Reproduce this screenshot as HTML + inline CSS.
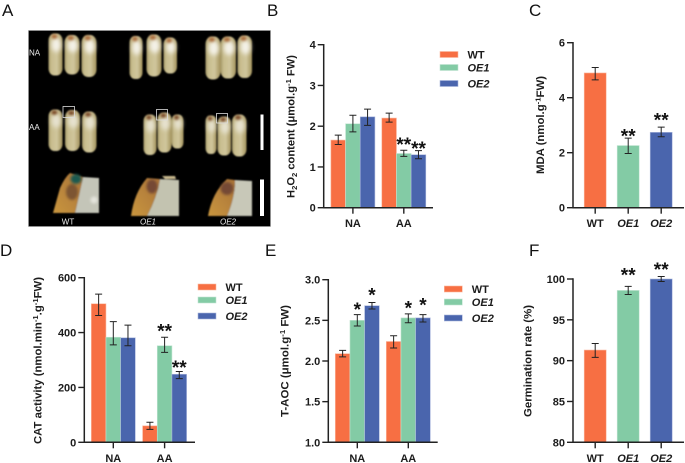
<!DOCTYPE html>
<html lang="en">
<head>
<meta charset="utf-8">
<title>Rice grain physiology figure</title>
<style>
html,body{margin:0;padding:0;background:#fff;width:685px;height:463px;overflow:hidden}
svg{display:block;font-family:"Liberation Sans",sans-serif;filter:blur(0.35px)}
.tick{font-size:11px;font-weight:700;fill:#1c1c1c}
.ytitle{font-size:11px;font-weight:700;fill:#1c1c1c}
.leg{font-size:11px;font-weight:700;fill:#1c1c1c}
.panel{font-size:17px;fill:#111}
.star{font-size:19px;font-weight:700;fill:#111}
.micro{font-size:8px;fill:#eee}
</style>
</head>
<body>
<svg id="fig" xmlns="http://www.w3.org/2000/svg" width="685" height="463" viewBox="0 0 685 463">
<defs>
<linearGradient id="grainBody" x1="0" x2="1" y1="0" y2="0">
<stop offset="0" stop-color="#a39766"/><stop offset=".2" stop-color="#c8bd8e"/><stop offset=".6" stop-color="#d0c69c"/><stop offset="1" stop-color="#a3935c"/>
</linearGradient>
<linearGradient id="seedFill" x1="0" x2="1" y1="1" y2="0">
<stop offset="0" stop-color="#c9963f"/><stop offset="1" stop-color="#a87238"/>
</linearGradient>
<filter id="soft" x="-20%" y="-20%" width="140%" height="140%"><feGaussianBlur stdDeviation="0.7"/></filter>
<filter id="softer" x="-50%" y="-50%" width="200%" height="200%"><feGaussianBlur stdDeviation="2.2"/></filter>
<filter id="spot" x="-50%" y="-50%" width="200%" height="200%"><feGaussianBlur stdDeviation="1.1"/></filter>
</defs>

<text class="panel" x="2" y="16">A</text>
<text class="panel" x="267" y="16">B</text>
<text class="panel" x="529" y="16">C</text>
<text class="panel" x="0" y="256">D</text>
<text class="panel" x="265" y="256">E</text>
<text class="panel" x="529" y="256">F</text>

<g id="panelA">
<rect x="28.5" y="30.5" width="242" height="196" fill="#000" stroke="#999" stroke-width=".6"/>
<g id="grains" filter="url(#soft)"></g>
<g filter="url(#soft)">
<path d="M83,177 L99,178 L99,213 L75,213 Q78,200 83,177 Z" fill="#c4c5b8"/>
<circle cx="94" cy="200" r="3.5" fill="#e4e4dc" filter="url(#spot)"/>
<path d="M53,213 L60,188 Q65,177 70,173 L83,177 Q78,200 75,213 Z" fill="url(#seedFill)"/>
<ellipse cx="72" cy="192" rx="6" ry="8" fill="#7d5530" filter="url(#spot)"/>
<ellipse cx="76" cy="179" rx="5.500" ry="5" fill="#1c5a50" filter="url(#spot)"/>
</g>
<g filter="url(#soft)">
<path d="M160,179 L179,180 L179,216 L147,216 Q157,197 160,179 Z" fill="#c3c3b0"/>
<path d="M131,216 Q134,193 147,178 L160,179 Q157,197 147,216 Z" fill="url(#seedFill)"/>
<ellipse cx="152" cy="186.500" rx="5.500" ry="7" fill="#754835" filter="url(#spot)"/>
<path d="M162,176 L175,176 L176,179 L165,179 Z" fill="#c9b98e"/>
</g>
<g filter="url(#soft)">
<path d="M235,180 L252,181 L252,216 L227,216 Q235,197 235,180 Z" fill="#c8c8b8"/>
<path d="M208,216 Q212,193 227,179 L235,180 Q235,197 227,216 Z" fill="url(#seedFill)"/>
<ellipse cx="227" cy="188.500" rx="6.500" ry="6.500" fill="#754835" filter="url(#spot)"/>
</g>
<rect x="63" y="106.500" width="11.500" height="11" fill="none" stroke="#ddd" stroke-width=".8"/>
<rect x="156.500" y="109.500" width="11" height="10.500" fill="none" stroke="#ddd" stroke-width=".8"/>
<rect x="216.500" y="113.500" width="11" height="9.500" fill="none" stroke="#ddd" stroke-width=".8"/>
<rect x="260.500" y="114.500" width="3" height="35.500" fill="#fff"/>
<rect x="260" y="179.500" width="4" height="36.500" fill="#fff"/>
<text class="micro" x="29" y="55.500">NA</text>
<text class="micro" x="29" y="130">AA</text>
<text class="micro" x="68" y="224.500" text-anchor="middle">WT</text>
<text class="micro" x="148" y="224.500" text-anchor="middle" font-style="italic">OE1</text>
<text class="micro" x="228" y="224.500" text-anchor="middle" font-style="italic">OE2</text>
</g>
<g id="charts"></g>
</svg>

<script>
// Panel B: H2O2 content
const bCategories = ['NA', 'AA'];
const bTicks = [0, 1, 2, 3, 4];
const bWT = [1.66, 2.20];
const bWTLow = [1.55, 2.10];
const bWTHigh = [1.78, 2.32];
const bOE1 = [2.06, 1.33];
const bOE1Low = [1.86, 1.26];
const bOE1High = [2.27, 1.41];
const bOE2 = [2.23, 1.30];
const bOE2Low = [2.02, 1.20];
const bOE2High = [2.42, 1.40];
const bOE1Stars = ['', '**'];
const bOE2Stars = ['', '**'];
const bOE1Lift = [0, 0.23];
const bOE2Lift = [0, 0.14];

// Panel C: MDA
const cCategories = ['WT', 'OE1', 'OE2'];
const cTicks = [0, 2, 4, 6];
const cValues = [4.90, 2.26, 2.74];
const cLow = [4.65, 1.97, 2.58];
const cHigh = [5.10, 2.53, 2.93];
const cStars = ['', '**', '**'];
const cLift = [0, 0.21, 0.39];

// Panel D: CAT activity
const dCategories = ['NA', 'AA'];
const dTicks = [0, 200, 400, 600];
const dWT = [505, 60];
const dWTLow = [462, 47];
const dWTHigh = [540, 73];
const dOE1 = [383, 352];
const dOE1Low = [355, 328];
const dOE1High = [440, 383];
const dOE2 = [381, 248];
const dOE2Low = [352, 232];
const dOE2High = [427, 258];
const dOE1Stars = ['', '**'];
const dOE2Stars = ['', '**'];
const dOE1Lift = [0, 37];
const dOE2Lift = [0, 29];

// Panel E: T-AOC
const eCategories = ['NA', 'AA'];
const eTicks = [1.0, 1.5, 2.0, 2.5, 3.0];
const eWT = [2.09, 2.24];
const eWTLow = [2.05, 2.16];
const eWTHigh = [2.13, 2.31];
const eOE1 = [2.50, 2.53];
const eOE1Low = [2.43, 2.47];
const eOE1High = [2.57, 2.58];
const eOE2 = [2.68, 2.53];
const eOE2Low = [2.64, 2.48];
const eOE2High = [2.72, 2.57];
const eOE1Stars = ['*', '*'];
const eOE2Stars = ['*', '*'];
const eOE1Lift = [0.11, 0.12];
const eOE2Lift = [0.135, 0.165];

// Panel F: germination rate
const fCategories = ['WT', 'OE1', 'OE2'];
const fTicks = [80, 85, 90, 95, 100];
const fValues = [91.3, 98.6, 100.0];
const fLow = [90.4, 98.1, 99.7];
const fHigh = [92.1, 99.1, 100.3];
const fStars = ['', '**', '**'];
const fLift = [0, 1.85, 1.3];

const legendNames = ['WT', 'OE1', 'OE2'];
const palette = ['#F76F43', '#83CBA5', '#4A65AD'];
const paleEdges = ['#fbb9a1', '#c2e5d2', '#a9b6dc'];

const NS = 'http://www.w3.org/2000/svg';
function make(tag, attrs, parent) {
  const node = document.createElementNS(NS, tag);
  for (const k in attrs) node.setAttribute(k, attrs[k]);
  parent.appendChild(node);
  return node;
}
function isItalic(label) { return label.indexOf('OE') === 0; }

function drawChart(cfg) {
  const root = document.getElementById('charts');
  const g = make('g', {}, root);
  
  
  const yScale = v => cfg.bottom - (v - cfg.yMin) / (cfg.yMax - cfg.yMin) * (cfg.bottom - cfg.top);
  const xCenter = i => cfg.firstCenter + i * cfg.step;

  cfg.series.forEach((s, si) => {
    s.values.forEach((val, i) => {
      const offset = cfg.series.length > 1 ? (si - (cfg.series.length - 1) / 2) * cfg.barW : 0;
      const cx = xCenter(i) + offset;
      const colorIndex = cfg.series.length > 1 ? si : i;
      const bar = make('rect', {x: cx - cfg.barW / 2, y: yScale(val), width: cfg.barW, height: cfg.bottom - yScale(val), fill: palette[colorIndex], stroke: paleEdges[colorIndex], 'stroke-width': 0.6}, g);
      
      
      const hi = yScale(s.high[i]);
      const lo = yScale(s.low[i]);
      const err = make('path', {d: 'M' + (cx - 3.5) + ',' + hi + 'H' + (cx + 3.5) + 'M' + cx + ',' + hi + 'V' + lo + 'M' + (cx - 3.5) + ',' + lo + 'H' + (cx + 3.5), fill: 'none', stroke: '#222', 'stroke-width': 1}, g);
      
      
      if (s.stars[i]) {
        const starCenter = yScale(s.high[i] + s.lift[i]);
        const star = make('text', {x: cx, y: starCenter + 10.2, 'text-anchor': 'middle', class: 'star'}, g);
        star.textContent = s.stars[i];
        
        
      }
    });
  });

  const yAxis = make('path', {d: 'M' + cfg.left + ',' + (cfg.top - .7) + 'V' + (cfg.bottom + .7), stroke: '#222', 'stroke-width': 1.5, fill: 'none'}, g);
  
  
  const xAxis = make('path', {d: 'M' + cfg.left + ',' + cfg.bottom + 'H' + cfg.right, stroke: '#222', 'stroke-width': 1.5, fill: 'none'}, g);
  
  

  cfg.ticks.forEach(t => {
    const y = yScale(t);
    const mark = make('path', {d: 'M' + (cfg.left - 6) + ',' + y + 'H' + cfg.left, stroke: '#222', 'stroke-width': 1.4}, g);
    
    
    const lab = make('text', {x: cfg.left - 8, y: y + 4, 'text-anchor': 'end', class: 'tick'}, g);
    lab.textContent = t.toFixed(cfg.decimals);
    
    
  });

  cfg.categories.forEach((c, i) => {
    const x = xCenter(i);
    const mark = make('path', {d: 'M' + x + ',' + cfg.bottom + 'V' + (cfg.bottom + 6), stroke: '#222', 'stroke-width': 1.4}, g);
    
    
    const lab = make('text', {x: x, y: cfg.bottom + 19.5, 'text-anchor': 'middle', class: 'tick'}, g);
    if (isItalic(c)) lab.setAttribute('font-style', 'italic');
    lab.textContent = c;
    
    
  });

  const title = make('text', {class: 'ytitle', 'text-anchor': 'middle', transform: 'translate(' + cfg.titleX + ',' + cfg.titleY + ') rotate(-90)', textLength: cfg.titleLen, lengthAdjust: 'spacingAndGlyphs'}, g);
  
  
  cfg.title.forEach(part => {
    const ts = make('tspan', {}, title);
    ts.textContent = part[0];
    if (part[1] === 'sub') { ts.setAttribute('dy', '2.5'); ts.setAttribute('font-size', '7.5'); }
    if (part[1] === 'sup') { ts.setAttribute('dy', '-3.5'); ts.setAttribute('font-size', '7.5'); }
    if (part[1] === 'subend') { ts.setAttribute('dy', '-2.5'); }
    if (part[1] === 'supend') { ts.setAttribute('dy', '3.5'); }
  });

  if (cfg.legendX !== undefined) {
    legendNames.forEach((n, i) => {
      const y = cfg.legendY + cfg.legendRows[i];
      const sw = make('rect', {x: cfg.legendX, y: y, width: 18, height: 6, fill: palette[i], stroke: paleEdges[i], 'stroke-width': 0.6}, g);
      
      
      const lab = make('text', {x: cfg.legendX + 27.500, y: y + 7, class: 'leg'}, g);
      if (isItalic(n)) lab.setAttribute('font-style', 'italic');
      lab.textContent = n;
      
      
    });
  }
}

const legendRowGaps = [0, 13, 29];

drawChart({id: 'h2o2', left: 323.7, right: 433, top: 44.7, bottom: 207.7, yMin: 0, yMax: 4, decimals: 0, ticks: bTicks, categories: bCategories,
  firstCenter: 352.9, step: 50.9, barW: 14.67, titleX: 294.5, titleY: 126.5, titleLen: 143,
  title: [['H'], ['2', 'sub'], ['O', 'subend'], ['2', 'sub'], [' content (μmol.g', 'subend'], ['-1', 'sup'], [' FW)', 'supend']],
  legendX: 440, legendY: 51.5, legendRows: legendRowGaps,
  series: [
    {name: 'WT', values: bWT, low: bWTLow, high: bWTHigh, stars: ['', ''], lift: [0, 0]},
    {name: 'OE1', values: bOE1, low: bOE1Low, high: bOE1High, stars: bOE1Stars, lift: bOE1Lift},
    {name: 'OE2', values: bOE2, low: bOE2Low, high: bOE2High, stars: bOE2Stars, lift: bOE2Lift}
  ]});

drawChart({id: 'mda', left: 573, right: 684, top: 42.7, bottom: 207.7, yMin: 0, yMax: 6, decimals: 0, ticks: cTicks, categories: cCategories,
  firstCenter: 595.2, step: 33, barW: 22, titleX: 544, titleY: 125, titleLen: 98,
  title: [['MDA (nmol.g'], ['-1', 'sup'], ['FW)', 'supend']],
  series: [{name: 'all', values: cValues, low: cLow, high: cHigh, stars: cStars, lift: cLift}]});

drawChart({id: 'cat', left: 84.3, right: 195, top: 277.7, bottom: 442.3, yMin: 0, yMax: 600, decimals: 0, ticks: dTicks, categories: dCategories,
  firstCenter: 113.3, step: 51.3, barW: 14.67, titleX: 41.5, titleY: 360.5, titleLen: 167,
  title: [['CAT activity (nmol.min'], ['-1', 'sup'], ['.g', 'supend'], ['-1', 'sup'], ['FW)', 'supend']],
  legendX: 198, legendY: 284, legendRows: legendRowGaps,
  series: [
    {name: 'WT', values: dWT, low: dWTLow, high: dWTHigh, stars: ['', ''], lift: [0, 0]},
    {name: 'OE1', values: dOE1, low: dOE1Low, high: dOE1High, stars: dOE1Stars, lift: dOE1Lift},
    {name: 'OE2', values: dOE2, low: dOE2Low, high: dOE2High, stars: dOE2Stars, lift: dOE2Lift}
  ]});

drawChart({id: 't-aoc', left: 328.3, right: 437.7, top: 279.7, bottom: 442.3, yMin: 1, yMax: 3, decimals: 1, ticks: eTicks, categories: eCategories,
  firstCenter: 357.3, step: 51, barW: 14.67, titleX: 288.5, titleY: 361, titleLen: 112,
  title: [['T-AOC (μmol.g'], ['-1', 'sup'], [' FW)', 'supend']],
  legendX: 444.3, legendY: 286, legendRows: legendRowGaps,
  series: [
    {name: 'WT', values: eWT, low: eWTLow, high: eWTHigh, stars: ['', ''], lift: [0, 0]},
    {name: 'OE1', values: eOE1, low: eOE1Low, high: eOE1High, stars: eOE1Stars, lift: eOE1Lift},
    {name: 'OE2', values: eOE2, low: eOE2Low, high: eOE2High, stars: eOE2Stars, lift: eOE2Lift}
  ]});

drawChart({id: 'germination', left: 573, right: 684, top: 279, bottom: 442.3, yMin: 80, yMax: 100, decimals: 0, ticks: fTicks, categories: fCategories,
  firstCenter: 595.2, step: 33, barW: 22, titleX: 531.5, titleY: 361, titleLen: 112,
  title: [['Germination rate (%)']],
  series: [{name: 'all', values: fValues, low: fLow, high: fHigh, stars: fStars, lift: fLift}]});

// Panel A photo: decorative grain shapes (left, top, right, bottom outlines)
const grainOutlines = [
  [48.5,33.5,62.5,75.5],[64.5,35,79.5,74.5],[81.5,35,96.5,77],
  [129.5,36,142.5,79],[146.5,34.5,161.5,76.5],[163.5,37.5,177,73.5],
  [205.5,36.5,220.5,79.5],[220.5,36.5,236,78.5],[237.5,35.5,252,78],
  [48.5,109.5,62.5,151],[65,110,80,151],[82,111.5,96.5,152.5],
  [143.5,114.5,156.5,155],[157.5,112.5,171.5,152.5],[171.5,114.5,183.5,148.5],
  [205.5,115.5,216.5,154],[217.5,116.5,231,155.5],[232,114.5,246.5,156.5]
];
const grainGroup = document.getElementById('grains');
grainOutlines.forEach((o, i) => {
  const w = o[2] - o[0];
  const h = o[3] - o[1];
  const body = make('rect', {x: o[0], y: o[1], width: w, height: h, rx: w * .42, ry: w * .5, fill: 'url(#grainBody)'}, grainGroup);
  
  
  const shine = make('ellipse', {cx: o[0] + w * .55, cy: o[1] + h * .27, rx: w * .34, ry: h * .17, fill: i >= 9 ? '#e6e2cf' : '#f4f2e8', filter: 'url(#softer)'}, grainGroup);
  
  
  const tip = make('ellipse', {cx: o[0] + w * .42, cy: o[1] + 3, rx: w * .22, ry: 2.4, fill: i >= 9 ? '#7a4a26' : '#ab6d3c', filter: 'url(#spot)'}, grainGroup);
  
  
});
</script>
</body>
</html>
